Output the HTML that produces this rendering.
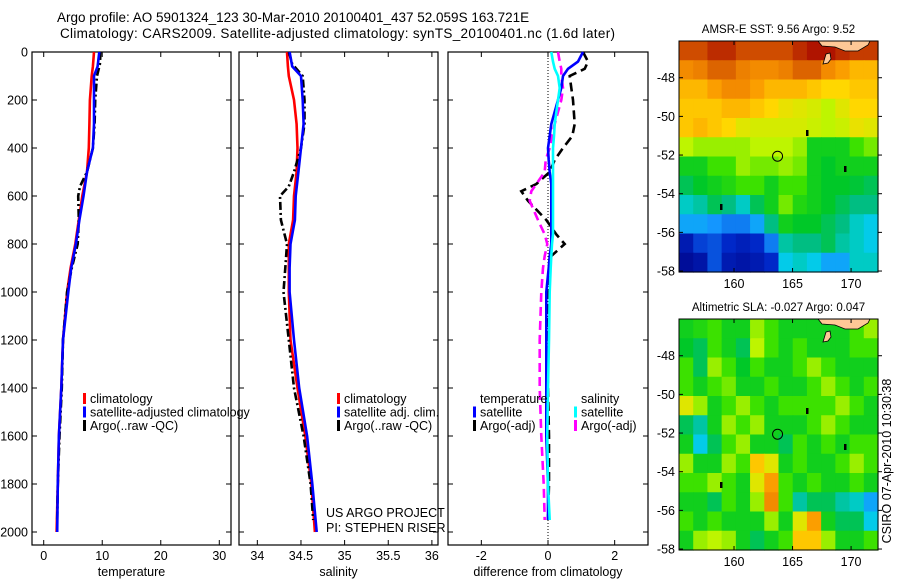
<!DOCTYPE html>
<html><head><meta charset="utf-8">
<style>
body{margin:0;background:#fff;}
svg{display:block;font-family:"Liberation Sans","DejaVu Sans",sans-serif;}
</style></head>
<body>
<svg id="fig" width="900" height="580" viewBox="0 0 900 580">
<text x="57" y="22" font-size="13.5" text-anchor="start">Argo profile: AO 5901324_123 30-Mar-2010 20100401_437 52.059S 163.721E</text>
<text x="60" y="38" font-size="13.5" text-anchor="start" textLength="555" lengthAdjust="spacing">Climatology: CARS2009. Satellite-adjusted climatology: synTS_20100401.nc (1.6d later)</text>
</svg>
<script>
// ---------- profile data ----------
const tDepth = [0,60,100,200,300,400,500,600,700,800,900,1000,1200,1400,1600,1800,2000];
const tClim  = [8.6,8.4,8.2,7.9,7.8,7.7,7.4,6.6,6.0,5.4,4.6,4.0,3.3,3.0,2.6,2.4,2.2];
const tSat   = [9.5,9.2,8.6,8.6,8.6,8.4,7.4,6.8,6.1,5.5,4.7,4.2,3.3,3.0,2.6,2.4,2.3];
const aDepth = [0,50,100,200,300,400,450,500,560,600,700,800,900,1000,1200,1400,1600,1800,1950];
const tArgo  = [9.7,9.6,9.1,8.8,8.7,8.4,7.9,7.4,6.2,5.9,6.0,5.8,4.8,4.0,3.3,3.1,2.7,2.4,2.3];
const sClim  = [34.34,34.35,34.36,34.42,34.45,34.46,34.45,34.42,34.41,34.36,34.36,34.36,34.38,34.46,34.55,34.62,34.66];
const sSat   = [34.37,34.40,34.50,34.52,34.53,34.50,34.47,34.44,34.43,34.38,34.37,34.37,34.42,34.48,34.57,34.63,34.68];
const sArgo  = [34.36,34.40,34.52,34.54,34.54,34.50,34.46,34.42,34.36,34.26,34.27,34.34,34.32,34.30,34.36,34.42,34.53,34.61,34.64];
const dDepth = [0,40,70,100,150,200,300,350,400,450,500,550,580,620,700,760,800,850,900,1000,1200,1400,1600,1800,1950];
const dTsat  = [1.05,0.9,0.6,0.45,0.4,0.3,0.1,0.05,0.0,0.02,0.05,0.1,0.1,0.1,0.1,0.1,0.1,0.05,0.02,-0.05,-0.05,-0.05,-0.05,0.0,0.0];
const dSsat  = [0.1,0.15,0.2,0.3,0.35,0.3,0.2,0.18,0.15,0.15,0.15,0.15,0.15,0.15,0.15,0.15,0.12,0.1,0.08,0.05,0.03,0.0,-0.02,0.0,0.05];
const dTargo = [1.05,1.2,1.1,0.65,0.7,0.75,0.8,0.73,0.45,0.2,0.05,-0.35,-0.8,-0.6,-0.05,0.25,0.5,0.1,0.05,-0.02,-0.03,0.0,0.03,0.03,0.0];
const dSargo = [0.3,0.35,0.4,0.4,0.45,0.4,0.2,0.12,0.05,-0.07,-0.1,-0.35,-0.5,-0.55,-0.3,-0.1,-0.02,-0.1,-0.15,-0.2,-0.25,-0.25,-0.2,-0.13,-0.1];
const depthTicks = [0,200,400,600,800,1000,1200,1400,1600,1800,2000];
const tTicks = [0,10,20,30];
const sTicks = [34,34.5,35,35.5,36];
const dTicks = [-2,0,2];
// ---------- map data ----------
const sstGrid = [
[0.88,0.88,0.92,0.92,0.88,0.88,0.88,0.88,0.92,0.95,0.95,0.92,0.9,0.9],
[0.78,0.8,0.85,0.85,0.8,0.78,0.78,0.8,0.85,0.85,0.78,0.75,0.72,0.72],
[0.72,0.72,0.75,0.78,0.78,0.75,0.72,0.72,0.72,0.7,0.68,0.68,0.7,0.7],
[0.7,0.7,0.7,0.72,0.72,0.7,0.68,0.66,0.65,0.64,0.62,0.65,0.68,0.68],
[0.7,0.72,0.7,0.68,0.65,0.64,0.64,0.64,0.64,0.63,0.62,0.63,0.66,0.65],
[0.62,0.6,0.6,0.6,0.6,0.62,0.62,0.62,0.6,0.5,0.5,0.5,0.55,0.58],
[0.5,0.5,0.55,0.55,0.6,0.58,0.58,0.6,0.58,0.5,0.48,0.5,0.5,0.5],
[0.45,0.48,0.5,0.52,0.55,0.55,0.5,0.55,0.55,0.5,0.48,0.48,0.47,0.45],
[0.38,0.4,0.45,0.42,0.38,0.45,0.5,0.58,0.52,0.5,0.48,0.45,0.42,0.42],
[0.3,0.3,0.28,0.25,0.25,0.3,0.42,0.5,0.48,0.48,0.45,0.42,0.38,0.35],
[0.1,0.18,0.2,0.15,0.12,0.15,0.25,0.4,0.42,0.42,0.45,0.4,0.38,0.35],
[0.05,0.08,0.2,0.1,0.08,0.1,0.15,0.35,0.38,0.35,0.3,0.3,0.38,0.38]];
const slaGrid = [
[0.5,0.52,0.55,0.5,0.5,0.6,0.55,0.5,0.5,0.5,0.5,0.5,0.55,0.6],
[0.48,0.45,0.55,0.5,0.45,0.62,0.55,0.5,0.55,0.5,0.5,0.5,0.55,0.55],
[0.55,0.45,0.6,0.55,0.48,0.55,0.5,0.5,0.55,0.6,0.55,0.5,0.5,0.5],
[0.55,0.5,0.55,0.58,0.5,0.5,0.55,0.5,0.5,0.55,0.6,0.55,0.5,0.55],
[0.65,0.6,0.5,0.55,0.6,0.55,0.5,0.55,0.55,0.55,0.55,0.6,0.55,0.5],
[0.45,0.4,0.5,0.6,0.55,0.6,0.5,0.5,0.5,0.55,0.6,0.55,0.5,0.5],
[0.5,0.35,0.45,0.55,0.6,0.5,0.5,0.45,0.55,0.5,0.55,0.5,0.55,0.55],
[0.6,0.5,0.5,0.6,0.55,0.7,0.65,0.5,0.55,0.5,0.5,0.55,0.6,0.55],
[0.55,0.55,0.6,0.55,0.5,0.65,0.75,0.55,0.5,0.55,0.5,0.5,0.55,0.5],
[0.5,0.5,0.45,0.55,0.5,0.6,0.78,0.55,0.4,0.45,0.45,0.4,0.38,0.3],
[0.55,0.5,0.55,0.5,0.5,0.5,0.6,0.5,0.65,0.75,0.5,0.45,0.45,0.35],
[0.5,0.6,0.62,0.6,0.5,0.45,0.5,0.55,0.7,0.7,0.6,0.5,0.5,0.55]];
const lonTicks = [160,165,170];
const latTicks = [-48,-50,-52,-54,-56,-58];
const floatLon = 163.72, floatLat = -52.06;

const NS = "http://www.w3.org/2000/svg";
const svg = document.getElementById('fig');
function mk(tag, attrs, parent){ const e=document.createElementNS(NS,tag); for(const k in attrs) e.setAttribute(k,attrs[k]); (parent||svg).appendChild(e); return e; }
function txt(x,y,s,size,anchor,parent){ const t=mk('text',{x:x,y:y,'font-size':size,'text-anchor':anchor||'middle'},parent); t.textContent=s; return t; }

const TOP=52, BOT=545;
const yD = d => TOP + d*0.24;

function panel(name, x0, x1, xmin, xmax, ticks, xlabel, showY){
  const g = mk('g',{});
  
  
  const xs = v => x0 + (v-xmin)/(xmax-xmin)*(x1-x0);
  const box = mk('rect',{x:x0,y:TOP,width:x1-x0,height:BOT-TOP,fill:'none',stroke:'#000','stroke-width':1.2},g);
  
  
  ticks.forEach(v=>{
    const x=xs(v);
    mk('line',{x1:x,y1:BOT,x2:x,y2:BOT-5,stroke:'#000'},g);
    mk('line',{x1:x,y1:TOP,x2:x,y2:TOP+5,stroke:'#000'},g);
    const t=txt(x,560,String(v),12.5,'middle',g);
    
    
  });
  depthTicks.forEach(d=>{
    const y=yD(d);
    mk('line',{x1:x0,y1:y,x2:x0+5,y2:y,stroke:'#000'},g);
    mk('line',{x1:x1,y1:y,x2:x1-5,y2:y,stroke:'#000'},g);
    if(showY){
      const t=txt(x0-4,y+4.5,String(d),12.5,'end',g);
      
      
    }
  });
  const xl=txt((x0+x1)/2,576,xlabel,12.5,'middle',g);
  
  
  return {g, xs};
}
function line(p, depths, vals, color, dash, nm){
  const pts = depths.map((d,i)=>p.xs(vals[i]).toFixed(1)+','+yD(d).toFixed(1)).join(' ');
  const a={points:pts,fill:'none',stroke:color,'stroke-width':2.6};
  if(dash) a['stroke-dasharray']=dash;
  const l=mk('polyline',a,p.g);
  
  
}
function legend(g, x, y, items){
  items.forEach((it,i)=>{
    const yy=y+i*13.5;
    if(it.c) mk('rect',{x:x,y:yy-10,width:3,height:11,fill:it.c},g);
    const t=txt(x+7,yy,it.t,12.5,'start',g);
    
    
  });
}

const p1 = panel('temperature',32,231,-2,32,tTicks,'temperature',true);
line(p1,tDepth,tClim,'#f00',null,'temperature-climatology-line');
line(p1,aDepth,tArgo,'#000','8,3,2,3','temperature-argo-line');
line(p1,tDepth,tSat,'#00f',null,'temperature-satellite-line');
legend(p1.g,83,403,[{c:'#f00',t:'climatology'},{c:'#00f',t:'satellite-adjusted climatology'},{c:'#000',t:'Argo(..raw -QC)'}]);

const p2 = panel('salinity',239,438,33.79,36.07,sTicks,'salinity',false);
line(p2,tDepth,sClim,'#f00',null,'salinity-climatology-line');
line(p2,aDepth,sArgo,'#000','8,3,2,3','salinity-argo-line');
line(p2,tDepth,sSat,'#00f',null,'salinity-satellite-line');
legend(p2.g,337,403,[{c:'#f00',t:'climatology'},{c:'#00f',t:'satellite adj. clim.'},{c:'#000',t:'Argo(..raw -QC)'}]);
const us=txt(326,517,'US ARGO PROJECT',12.5,'start',p2.g);


const pi=txt(326,532,'PI: STEPHEN RISER',12.5,'start',p2.g);



const p3 = panel('difference',448,648,-3,3,dTicks,'difference from climatology',false);
const zl=mk('line',{x1:p3.xs(0),y1:TOP,x2:p3.xs(0),y2:BOT,stroke:'#000','stroke-dasharray':'1,2','stroke-width':1},p3.g);


line(p3,dDepth,dTargo,'#000','9,5','temperature-argo-difference-line');
line(p3,dDepth,dSargo,'#f0f','9,5','salinity-argo-difference-line');
line(p3,dDepth,dTsat,'#00f',null,'temperature-satellite-difference-line');
line(p3,dDepth,dSsat,'#0ff',null,'salinity-satellite-difference-line');
legend(p3.g,473,403,[{c:null,t:'temperature'},{c:'#00f',t:'satellite'},{c:'#000',t:'Argo(-adj)'}]);
legend(p3.g,574,403,[{c:null,t:'salinity'},{c:'#0ff',t:'satellite'},{c:'#f0f',t:'Argo(-adj)'}]);

const cstops=[[0,[0,0,130]],[0.15,[0,40,200]],[0.28,[20,150,255]],[0.36,[0,210,230]],[0.42,[0,190,130]],[0.48,[0,200,40]],[0.55,[60,225,0]],[0.62,[190,245,0]],[0.68,[255,215,0]],[0.76,[250,150,0]],[0.85,[220,100,0]],[0.95,[175,20,0]],[1,[140,0,0]]];
function cmap(v){
  for(let i=1;i<cstops.length;i++){
    if(v<=cstops[i][0]){const a=cstops[i-1],b=cstops[i];const f=(v-a[0])/(b[0]-a[0]);
      const c=a[1].map((x,k)=>Math.round(x+(b[1][k]-x)*f));return 'rgb('+c.join(',')+')';}
  }
  return 'rgb(140,0,0)';
}
const LON0=155.3, LON1=172.3, LATT=-46.1, LATB=-58.05;
function map(name, top, grid, title){
  const x0=679,x1=878,y0=top,y1=top+231;
  const g=mk('g',{});
  
  
  const lx=v=>x0+(v-LON0)/(LON1-LON0)*(x1-x0);
  const ly=v=>y0+(LATT-v)/(LATT-LATB)*(y1-y0);
  const rows=grid.length, cols=grid[0].length, cw=(x1-x0)/cols, ch=(y1-y0)/rows;
  grid.forEach((row,r)=>row.forEach((v,c)=>{
    const cell=mk('rect',{x:(x0+c*cw).toFixed(2),y:(y0+r*ch).toFixed(2),width:(cw+0.6).toFixed(2),height:(ch+0.6).toFixed(2),fill:cmap(v)},g);
    
    
  }));
  const land=mk('polygon',{points:[[818,y0],[870,y0],[868,y0+4],[858,y0+10],[845,y0+10],[835,y0+6],[822,y0+5]].map(p=>p.join(',')).join(' '),fill:'#ffc896',stroke:'#000','stroke-width':0.8},g);
  
  
  const isl=mk('polygon',{points:[[826,y0+13],[830,y0+12],[831,y0+18],[828,y0+22],[823,y0+23]].map(p=>p.join(',')).join(' '),fill:'#ffc896',stroke:'#000','stroke-width':0.8},g);
  
  
  [[806,y0+89],[844,y0+125],[720,y0+163]].forEach(p=>{const s=mk('rect',{x:p[0],y:p[1],width:2.5,height:6,fill:'#000'},g);
    
    });
  const mark=mk('circle',{cx:lx(floatLon),cy:ly(floatLat),r:5,fill:'none',stroke:'#000','stroke-width':1},g);
  
  
  mk('rect',{x:x0,y:y0,width:x1-x0,height:y1-y0,fill:'none',stroke:'#000','stroke-width':1},g);
  lonTicks.forEach(v=>{const x=lx(v);
    mk('line',{x1:x,y1:y1,x2:x,y2:y1-4,stroke:'#000'},g);
    mk('line',{x1:x,y1:y0,x2:x,y2:y0+4,stroke:'#000'},g);
    const t=txt(x,y1+16,String(v),12.5,'middle',g);
    
    });
  latTicks.forEach(v=>{const y=ly(v);
    mk('line',{x1:x0,y1:y,x2:x0+4,y2:y,stroke:'#000'},g);
    mk('line',{x1:x1,y1:y,x2:x1+4,y2:y,stroke:'#000'},g);
    const t=txt(x0-4,y+4.5,String(v),12.5,'end',g);
    
    });
  const tt=txt((x0+x1)/2,top-8,title,11.5,'middle',g);
  
  
}
map('sst',41,sstGrid,'AMSR-E SST: 9.56 Argo: 9.52');
map('sla',319,slaGrid,'Altimetric SLA: -0.027 Argo: 0.047');
const stamp=txt(0,0,'CSIRO 07-Apr-2010 10:30:38',12.5,'middle');
stamp.setAttribute('transform','translate(891,461) rotate(-90)');


</script>
</body></html>
